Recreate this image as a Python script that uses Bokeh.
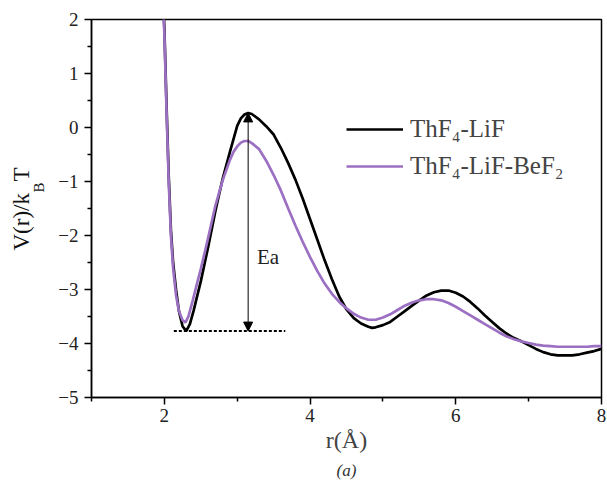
import numpy as np
from bokeh.plotting import figure
from bokeh.models import (Range1d, FixedTicker, Label, Arrow, NormalHead,
                          Legend, LegendItem, Title)
from bokeh.embed import file_html
from bokeh.resources import INLINE

# ---------------- data ----------------
r_lif = [1.98, 2.00, 2.03, 2.06, 2.09, 2.12, 2.16, 2.20, 2.25, 2.30, 2.35, 2.40,
         2.50, 2.60, 2.70, 2.80, 2.90, 3.00, 3.05, 3.10, 3.15, 3.20, 3.30, 3.40,
         3.50, 3.60, 3.70, 3.80, 3.90, 4.00, 4.10, 4.20, 4.30, 4.40, 4.50, 4.60,
         4.70, 4.80, 4.85, 4.90, 5.00, 5.10, 5.20, 5.30, 5.40, 5.50, 5.60, 5.70,
         5.80, 5.90, 6.00, 6.10, 6.20, 6.30, 6.40, 6.50, 6.60, 6.70, 6.80, 6.90,
         7.00, 7.10, 7.20, 7.30, 7.40, 7.50, 7.60, 7.70, 7.80, 7.90, 8.00]
v_lif = [2.40, 1.85, 0.40, -0.90, -1.90, -2.50, -3.00, -3.40, -3.68, -3.77, -3.64, -3.40,
         -2.85, -2.22, -1.55, -0.95, -0.45, 0.03, 0.17, 0.24, 0.27, 0.25, 0.15, 0.02,
         -0.13, -0.38, -0.66, -0.97, -1.32, -1.70, -2.08, -2.46, -2.81, -3.13, -3.37, -3.53,
         -3.63, -3.69, -3.71, -3.70, -3.66, -3.60, -3.50, -3.40, -3.30, -3.20, -3.11, -3.05,
         -3.02, -3.02, -3.06, -3.13, -3.23, -3.35, -3.48, -3.60, -3.72, -3.82, -3.90, -3.96,
         -4.03, -4.10, -4.16, -4.20, -4.22, -4.22, -4.22, -4.20, -4.17, -4.14, -4.10]

r_bef = [1.98, 2.00, 2.03, 2.06, 2.09, 2.12, 2.16, 2.20, 2.25, 2.29, 2.33, 2.39,
         2.45, 2.50, 2.56, 2.60, 2.70, 2.80, 2.90, 2.95, 3.00, 3.05, 3.10, 3.15,
         3.20, 3.30, 3.40, 3.50, 3.60, 3.70, 3.80, 3.90, 4.00, 4.10, 4.20, 4.30,
         4.40, 4.50, 4.60, 4.70, 4.80, 4.90, 5.00, 5.10, 5.20, 5.30, 5.40, 5.50,
         5.60, 5.70, 5.80, 5.90, 6.00, 6.10, 6.20, 6.30, 6.40, 6.50, 6.60, 6.70,
         6.80, 6.90, 7.00, 7.10, 7.20, 7.30, 7.40, 7.50, 7.60, 7.70, 7.80, 7.90, 8.00]
v_bef = [2.30, 1.75, 0.30, -1.00, -2.00, -2.60, -3.10, -3.40, -3.57, -3.61, -3.50, -3.20,
         -2.88, -2.62, -2.28, -2.05, -1.45, -0.98, -0.60, -0.45, -0.35, -0.28, -0.25, -0.25,
         -0.29, -0.40, -0.62, -0.88, -1.17, -1.50, -1.82, -2.12, -2.40, -2.66, -2.89, -3.08,
         -3.23, -3.35, -3.45, -3.52, -3.56, -3.56, -3.52, -3.46, -3.38, -3.30, -3.24, -3.20,
         -3.18, -3.18, -3.20, -3.25, -3.32, -3.40, -3.48, -3.56, -3.64, -3.72, -3.80, -3.87,
         -3.92, -3.96, -3.99, -4.02, -4.04, -4.05, -4.06, -4.06, -4.06, -4.06, -4.06, -4.05, -4.05]

series_names = ["ThF\u2084-LiF", "ThF\u2084-LiF-BeF\u2082"]
series_colors = ["#000000", "#9b6fc2"]
x_ticks = [2, 4, 6, 8]
y_ticks = [-5, -4, -3, -2, -1, 0, 1, 2]

SERIF = "Liberation Serif"

p = figure(width=607, height=488, output_backend="svg", toolbar_location=None,
           x_range=Range1d(1, 8), y_range=Range1d(-5, 2),
           min_border_left=91, min_border_right=6, min_border_top=19,
           min_border_bottom=91, background_fill_color="white",
           border_fill_color="white")
p.grid.visible = False
p.outline_line_color = "black"
p.outline_line_width = 1.5
p.outline_line_alpha = 1

for ax in (p.xaxis[0], p.yaxis[0]):
    ax.axis_line_width = 1.5
    ax.major_tick_line_width = 1.5
    ax.minor_tick_line_width = 1.5
    ax.major_tick_out = 7
    ax.major_tick_in = 0
    ax.minor_tick_out = 4
    ax.minor_tick_in = 0
    ax.major_label_text_font = SERIF
    ax.major_label_text_font_size = "19px"
    ax.major_label_text_color = "#222222"

p.xaxis[0].ticker = FixedTicker(ticks=x_ticks, minor_ticks=[1, 3, 5, 7])
p.yaxis[0].ticker = FixedTicker(ticks=y_ticks,
                                minor_ticks=[t + 0.5 for t in y_ticks[:-1]])
p.yaxis[0].major_label_overrides = {t: (str(t).replace("-", "\u2212")) for t in y_ticks}
p.xaxis[0].major_label_standoff = 4
p.yaxis[0].major_label_standoff = 6

p.xaxis[0].axis_label = "r(\u00c5)"
p.xaxis[0].axis_label_text_font = SERIF
p.xaxis[0].axis_label_text_font_style = "normal"
p.xaxis[0].axis_label_text_font_size = "24px"
p.xaxis[0].axis_label_standoff = 2

# caption "(a)"
p.add_layout(Title(text="(a)", align="center", text_font=SERIF,
                   text_font_style="italic", text_font_size="17px",
                   text_color="#333333", standoff=6), "below")


def title_kw(text, size, offset):
    return dict(text=text, align="left", offset=offset, text_font=SERIF,
                text_font_style="normal", text_font_size=size,
                text_color="#111111")


# y-axis title V(r)/k_B T : subscript "B" in its own column next to the axis,
# main text (with a gap where the subscript sits) pulled back toward it
try:
    t_main = Title(standoff=-28, **title_kw("V(r)/k\u00a0\u00a0T", "23px", 147))
    t_sub = Title(standoff=18, **title_kw("B", "15px", 205))
except Exception:
    t_main = Title(standoff=0, **title_kw("V(r)/k\u00a0\u00a0T", "23px", 147))
    t_sub = Title(standoff=8, **title_kw("B", "15px", 205))
p.add_layout(t_sub, "left")
p.add_layout(t_main, "left")

# curves
r_list = [r_lif, r_bef]
v_list = [v_lif, v_bef]
renderers = []
for rr, vv, col in zip(r_list, v_list, series_colors):
    renderers.append(p.line(rr, vv, line_color=col, line_width=2.7))

# Ea annotation derived from the ThF4-LiF curve
v_arr = np.array(v_lif)
r_arr = np.array(r_lif)
first = r_arr < 3
i_min = int(np.argmin(np.where(first, v_arr, 99)))
v_min = float(v_arr[i_min])
r_min = float(r_arr[i_min])
mask = (r_arr > 2.5) & (r_arr < 4)
i_pk = int(np.argmax(np.where(mask, v_arr, -99)))
v_pk = float(v_arr[i_pk])
r_pk = float(r_arr[i_pk])

p.line([r_min - 0.17, r_pk + 0.51], [v_min, v_min], line_color="black",
       line_width=2, line_dash="3 2")
p.add_layout(Arrow(x_start=r_pk, y_start=v_min, x_end=r_pk, y_end=v_pk,
                   line_width=1, line_color="black",
                   start=NormalHead(size=9, fill_color="black", line_color="black"),
                   end=NormalHead(size=9, fill_color="black", line_color="black")))
p.add_layout(Label(x=r_pk + 0.12, y=(v_min + v_pk) / 2 - 0.65, text="Ea",
                   text_font=SERIF, text_font_size="21px",
                   text_baseline="middle", text_color="#222222"))

# legend
legend = Legend(items=[LegendItem(label=n, renderers=[r])
                       for n, r in zip(series_names, renderers)],
                location=(255, 216), padding=0, margin=0, spacing=7,
                glyph_width=57, glyph_height=30, label_height=30,
                label_standoff=7, label_text_font=SERIF,
                label_text_font_size="25px", border_line_color=None,
                background_fill_alpha=0)
p.add_layout(legend)

open("out.html", "w").write(file_html(p, INLINE))
